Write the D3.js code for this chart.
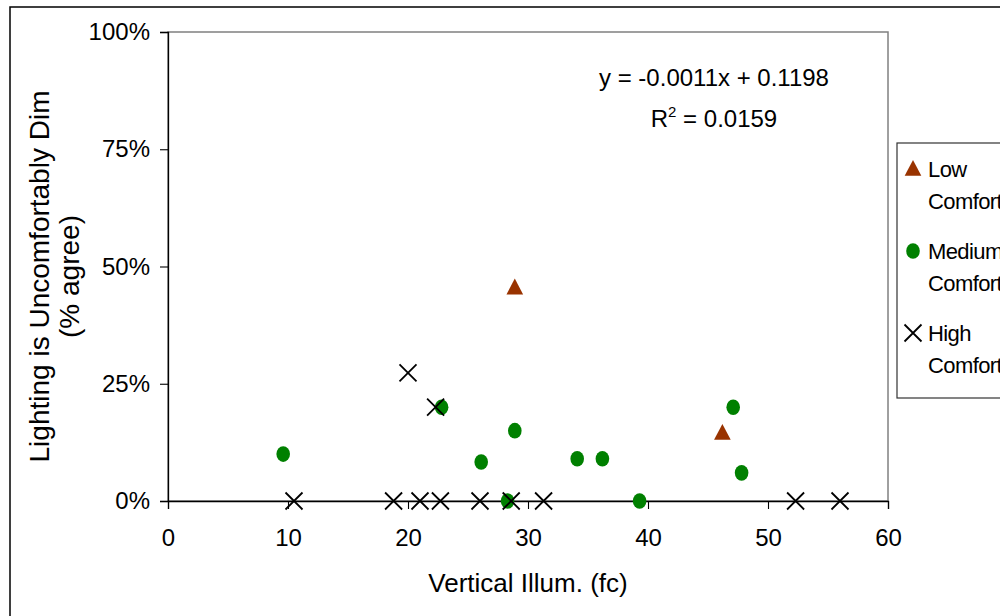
<!DOCTYPE html>
<html>
<head>
<meta charset="utf-8">
<script src="https://cdn.jsdelivr.net/npm/d3@7/dist/d3.min.js"></script>
<style>
  html, body { margin: 0; padding: 0; background: #fff; }
  svg { display: block; font-family: "Liberation Sans", Arial, sans-serif; }
</style>
</head>
<body>
<svg id="chart" width="1000" height="616"></svg>
<script>
// Survey results: share of respondents agreeing lighting is uncomfortably dim,
// against vertical illuminance (fc), grouped by comfort level.
const lowX = [28.9, 46.2];
const lowY = [45.5, 14.5];

const mediumX = [9.6, 22.8, 26.1, 28.3, 28.9, 34.1, 36.2, 39.3, 47.1, 47.8];
const mediumY = [10, 20, 8.3, 0, 15, 9, 9, 0, 20, 6];

const highX = [10.5, 18.8, 20.0, 21.0, 22.3, 22.7, 26.0, 28.6, 31.3, 52.3, 56.0];
const highY = [0, 0, 27.3, 0, 20, 0, 0, 0, 0, 0, 0];

const xTicks = [0, 10, 20, 30, 40, 50, 60];
const yTicks = [0, 25, 50, 75, 100];

const seriesNames = ["Low Comfort", "Medium Comfort", "High Comfort"];
const equationText = "y = -0.0011x + 0.1198";
const rSquaredText = "0.0159";

const svg = d3.select("#chart");

// outer chart frame
svg.append("rect")
  .attr("x", 10).attr("y", 7)
  .attr("width", 1010).attr("height", 630)
  .attr("fill", "#fff").attr("stroke", "#000").attr("stroke-width", 1.5);

const plot = { left: 168, top: 32, right: 888, bottom: 501 };

const x = d3.scaleLinear().domain([0, 60]).range([plot.left, plot.right]);
const y = d3.scaleLinear().domain([0, 100]).range([plot.bottom, plot.top]);

// plot area border
svg.append("rect")
  .attr("x", plot.left).attr("y", plot.top)
  .attr("width", plot.right - plot.left).attr("height", plot.bottom - plot.top)
  .attr("fill", "none").attr("stroke", "#808080").attr("stroke-width", 1.5);

// axes
const xAxis = svg.append("g")
  .attr("transform", `translate(0,${plot.bottom})`)
  .call(d3.axisBottom(x).tickValues(xTicks).tickSize(8).tickPadding(20).tickFormat(d3.format("d")));
const yAxis = svg.append("g")
  .attr("transform", `translate(${plot.left},0)`)
  .call(d3.axisLeft(y).tickValues(yTicks).tickSize(8).tickPadding(10).tickFormat(d => d + "%"));

[xAxis, yAxis].forEach(g => {
  g.select(".domain").attr("stroke", "#000").attr("stroke-width", 1.3);
  g.selectAll(".tick line").attr("stroke", "#000").attr("stroke-width", 1.1);
  g.selectAll(".tick text")
    .attr("fill", "#000")
    .style("font-size", "24px")
    .style("font-family", "'Liberation Sans', Arial, sans-serif");
});

// axis titles
svg.append("text")
  .attr("x", (plot.left + plot.right) / 2).attr("y", 592)
  .attr("text-anchor", "middle")
  .style("font-size", "26px")
  .text("Vertical Illum. (fc)");

const yTitle = svg.append("text")
  .attr("transform", `translate(49,${(plot.top + plot.bottom) / 2 + 10}) rotate(-90)`)
  .attr("text-anchor", "middle")
  .style("font-size", "28px");
yTitle.append("tspan").attr("x", 0).attr("dy", 0).text("Lighting is Uncomfortably Dim");
yTitle.append("tspan").attr("x", 0).attr("dy", 30).text("(% agree)");

// regression annotation
svg.append("text")
  .attr("x", 714).attr("y", 86)
  .attr("text-anchor", "middle")
  .style("font-size", "24px")
  .text(equationText);
const r2 = svg.append("text")
  .attr("x", 714).attr("y", 127)
  .attr("text-anchor", "middle")
  .style("font-size", "24px");
r2.append("tspan").text("R");
r2.append("tspan").attr("dy", -10).style("font-size", "15px").text("2");
r2.append("tspan").attr("dy", 10).text(" = " + rSquaredText);

// marker painters
const triangle = d3.symbol().type(d3.symbolTriangle).size(120);
function drawTriangle(g, cx, cy) {
  g.append("path")
    .attr("d", triangle())
    .attr("transform", `translate(${cx},${cy + 1.5}) scale(1,1.1)`)
    .attr("fill", "#993300");
}
function drawCircle(g, cx, cy) {
  g.append("ellipse")
    .attr("cx", cx).attr("cy", cy)
    .attr("rx", 6.8).attr("ry", 7.8)
    .attr("fill", "#008000");
}
function drawCross(g, cx, cy) {
  const h = 8.5;
  g.append("path")
    .attr("d", `M${cx - h},${cy - h}L${cx + h},${cy + h}M${cx - h},${cy + h}L${cx + h},${cy - h}`)
    .attr("stroke", "#000").attr("stroke-width", 1.8).attr("fill", "none");
}

const marks = svg.append("g");
lowX.forEach((v, i) => drawTriangle(marks, x(v), y(lowY[i])));
mediumX.forEach((v, i) => drawCircle(marks, x(v), y(mediumY[i])));
highX.forEach((v, i) => drawCross(marks, x(v), y(highY[i])));

// legend
const legend = svg.append("g");
legend.append("rect")
  .attr("x", 897).attr("y", 143)
  .attr("width", 140).attr("height", 255)
  .attr("fill", "#fff").attr("stroke", "#333").attr("stroke-width", 1.2);

const painters = [drawTriangle, drawCircle, drawCross];
const legendRows = [169, 251, 333];
seriesNames.forEach((name, i) => {
  const cy = legendRows[i];
  painters[i](legend, 913, cy);
  const words = name.split(" ");
  const t = legend.append("text")
    .attr("x", 928).attr("y", cy + 8)
    .style("font-size", "22px")
    .attr("letter-spacing", "-0.6");
  t.append("tspan").attr("x", 928).attr("dy", 0).text(words[0]);
  t.append("tspan").attr("x", 928).attr("dy", 32).text(words[1]);
});
</script>
</body>
</html>
